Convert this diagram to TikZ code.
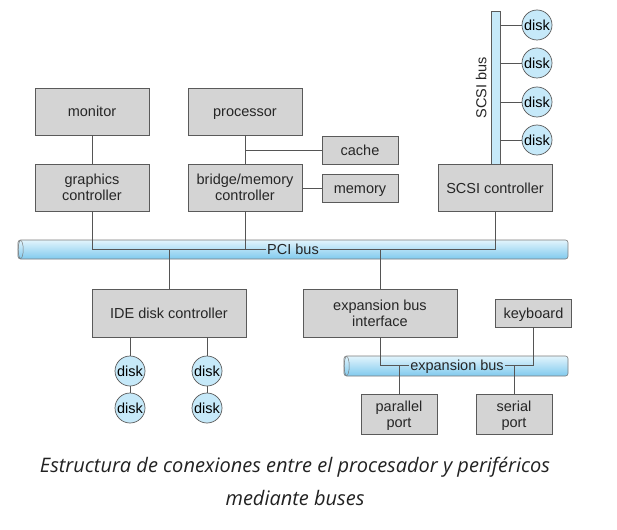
\documentclass[tikz,border=0pt]{standalone}
\usepackage{fontspec}
\setmainfont{Liberation Sans}
\newfontfamily\capfont{Open Sans}
\definecolor{boxfill}{HTML}{D4D4D4}
\definecolor{boxline}{HTML}{5A5A5A}
\definecolor{wire}{HTML}{555555}
\definecolor{diskfill}{HTML}{C6E9F9}
\definecolor{bustop}{HTML}{E2F4FC}
\definecolor{busbot}{HTML}{80CAEE}
\definecolor{captext}{HTML}{222222}
\begin{document}
\begin{tikzpicture}[x=1pt,y=-1pt,
  box/.style={draw=boxline, fill=boxfill, line width=0.8pt, inner sep=0pt, align=center,
    font=\fontsize{14.5}{16}\selectfont, text=black!85},
  oneline/.style={text height=11pt, text depth=0.5pt},
  twoline/.style={text depth=-3pt},
  disk/.style={circle, draw=boxline, fill=diskfill, line width=0.7pt, minimum size=30pt, inner sep=0pt,
    font=\fontsize{14.5}{16}\selectfont, text height=11pt, text depth=0.5pt},
  bus/.style={draw=boxline!80, line width=0.6pt, top color=bustop, bottom color=busbot, rounded corners=2.5pt, inner sep=0pt},
  buslabel/.style={inner sep=1.5pt, font=\fontsize{14.5}{16}\selectfont, text=black!85, text height=11pt, text depth=0.5pt},
  wire/.style={draw=wire, line width=0.7pt}]
\useasboundingbox (0,0) rectangle (617,529);
\fill[white] (0,0) rectangle (617,529);

% buses
\node[bus, minimum width=550pt, minimum height=19pt] (pci) at (293,249.5) {};
\draw[boxline!80, line width=0.5pt] ([xshift=3pt]pci.west) ellipse [x radius=2.5pt, y radius=9pt];
\node[buslabel] (pcil) at (293,249) {PCI bus};

\node[bus, minimum width=224pt, minimum height=20pt] (exb) at (456,366) {};
\draw[boxline!80, line width=0.5pt] ([xshift=3pt]exb.west) ellipse [x radius=2.5pt, y radius=9.5pt];
\node[buslabel] (exbl) at (457,365.5) {expansion bus};

\node[draw=boxline, fill=diskfill, line width=0.7pt, minimum width=9pt, minimum height=153pt, inner sep=0pt] (scsi) at (495.5,87.5) {};
\node[buslabel, rotate=90] (scsil) at (481,88) {SCSI bus};

% boxes
\node[box, oneline, minimum width=114pt, minimum height=47pt] (mon) at (92,111.5) {monitor};
\node[box, twoline, minimum width=114pt, minimum height=47pt] (gfx) at (92,187.5) {graphics\\controller};
\node[box, oneline, minimum width=114pt, minimum height=47pt] (cpu) at (245,111.5) {processor};
\node[box, twoline, minimum width=114pt, minimum height=47pt] (bridge) at (245,187.5) {bridge/memory\\controller};
\node[box, oneline, minimum width=76pt, minimum height=28pt] (cache) at (360,150) {cache};
\node[box, oneline, minimum width=76pt, minimum height=28pt] (mem) at (360,188) {memory};
\node[box, oneline, minimum width=114pt, minimum height=47pt] (scsic) at (495,188) {SCSI controller};
\node[box, oneline, minimum width=154pt, minimum height=48pt] (ide) at (169,313) {IDE disk controller};
\node[box, twoline, minimum width=154pt, minimum height=48pt] (expif) at (380,313) {expansion bus\\interface};
\node[box, oneline, minimum width=76pt, minimum height=28pt] (kb) at (533.5,313) {keyboard};
\node[box, twoline, minimum width=76pt, minimum height=40pt] (par) at (399,414) {parallel\\port};
\node[box, twoline, minimum width=76pt, minimum height=40pt] (ser) at (514,414) {serial\\port};

% disks
\node[disk] (s1) at (537,25) {disk};
\node[disk] (s2) at (537,63) {disk};
\node[disk] (s3) at (537,102) {disk};
\node[disk] (s4) at (537,140) {disk};
\node[disk] (a1) at (130,371) {disk};
\node[disk] (a2) at (130,408) {disk};
\node[disk] (b1) at (207,371) {disk};
\node[disk] (b2) at (207,408) {disk};

% wires
\draw[wire] (mon.south) -- (gfx.north);
\draw[wire] (cpu.south) -- (bridge.north);
\draw[wire] (cpu.south |- cache.west) -- (cache.west);
\draw[wire] (bridge.east |- mem.west) -- (mem.west);
\draw[wire] (gfx.south) -- (gfx.south |- pcil.west) -- (pcil.west);
\draw[wire] (bridge.south) -- (bridge.south |- pcil.west);
\draw[wire] (scsic.south) -- (scsic.south |- pcil.east) -- (pcil.east);
\draw[wire] (ide.north |- pcil.west) -- (ide.north);
\draw[wire] (expif.north |- pcil.east) -- (expif.north);
\foreach \d in {s1,s2,s3,s4} \draw[wire] (scsi.east |- \d.west) -- (\d.west);
\draw[wire] (a1.north |- ide.south) -- (a1.north);
\draw[wire] (a1.south) -- (a2.north);
\draw[wire] (b1.north |- ide.south) -- (b1.north);
\draw[wire] (b1.south) -- (b2.north);
\draw[wire] (expif.south) -- (expif.south |- exbl.west) -- (exbl.west);
\draw[wire] (kb.south) -- (kb.south |- exbl.east) -- (exbl.east);
\draw[wire] (par.north |- exbl.west) -- (par.north);
\draw[wire] (ser.north |- exbl.east) -- (ser.north);

% caption
\node[font=\capfont\itshape\fontsize{20}{24}\selectfont, text=captext] (cap1) at (295,467) {Estructura de conexiones entre el procesador y periféricos};
\node[font=\capfont\itshape\fontsize{20}{24}\selectfont, text=captext] (cap2) at (295,498) {mediante buses};
\end{tikzpicture}
\end{document}
